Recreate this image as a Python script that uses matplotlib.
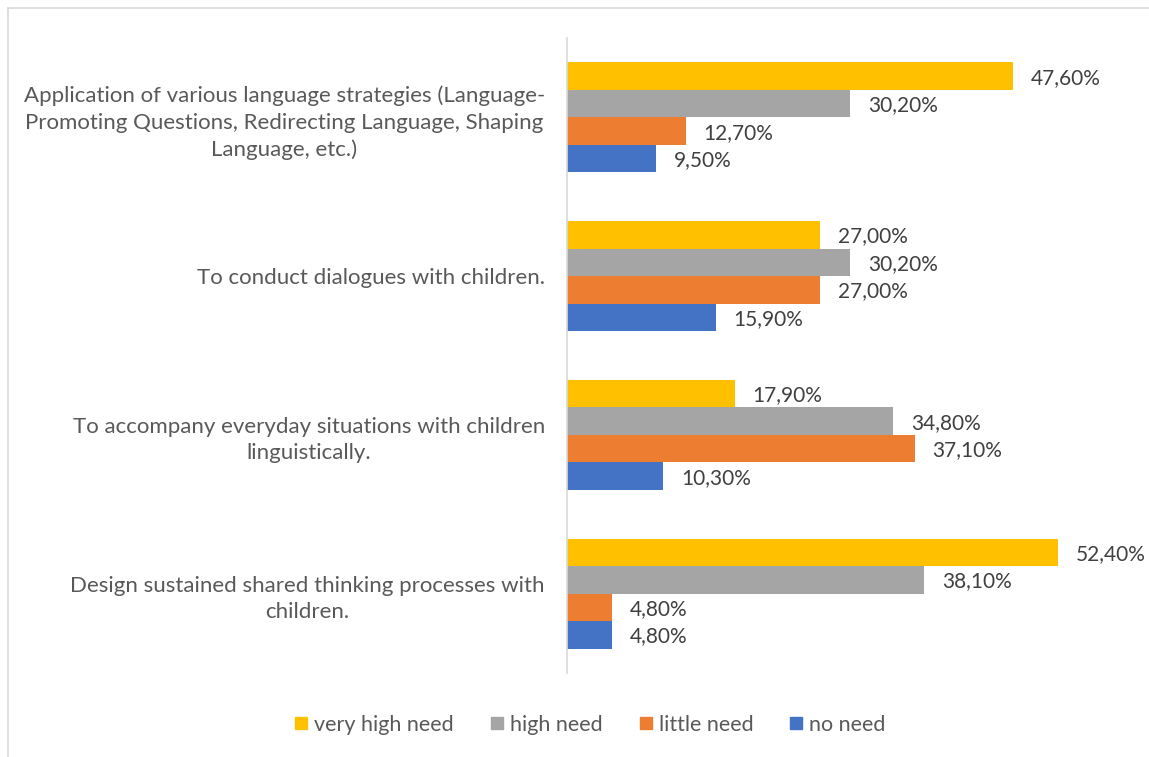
import numpy as np
import matplotlib.pyplot as plt
from matplotlib.lines import Line2D

plt.rcParams['font.family'] = ['Lato', 'DejaVu Sans']

categories = [
    "Application of various language strategies (Language-\nPromoting Questions, Redirecting Language, Shaping\nLanguage, etc.)",
    "To conduct dialogues with children.",
    "To accompany everyday situations with children\nlinguistically.",
    "Design sustained shared thinking processes with\nchildren.",
]
series_names = ["very high need", "high need", "little need", "no need"]
very_high = [47.6, 27.0, 17.9, 52.4]
high = [30.2, 30.2, 34.8, 38.1]
little = [12.7, 27.0, 37.1, 4.8]
no_need = [9.5, 15.9, 10.3, 4.8]
colors = ["#FFC000", "#A5A5A5", "#ED7D31", "#4472C4"]

series = [very_high, high, little, no_need]

fig = plt.figure(figsize=(11.49, 7.57), dpi=100)
ax = fig.add_axes([567 / 1149, 1 - 673 / 757, (1129 - 567) / 1149, (673 - 38) / 757])

bar_h = 0.173
group = np.arange(len(categories))
for i, (name, vals, c) in enumerate(zip(series_names, series, colors)):
    y = group + (i - 1.5) * bar_h
    bars = ax.barh(y, vals, height=bar_h, color=c, label=name)
    for b, v in zip(bars, vals):
        ax.text(v + 1.9, b.get_y() + b.get_height() / 2 + 0.01, f"{v:.2f}%".replace(".", ","),
                va="center", ha="left", fontsize=15, color="#404040")

ax.set_xlim(0, 60)
ax.set_ylim(3.5, -0.5)
ax.set_xticks([])
ax.set_yticks(group)
ax.set_yticklabels(categories, fontsize=16, color="#595959", ha="right",
                   multialignment="center", linespacing=1.4)
ax.tick_params(axis="y", length=0, pad=16)
for s in ["top", "right", "bottom"]:
    ax.spines[s].set_visible(False)
ax.spines["left"].set_color("#D9D9D9")
ax.spines["left"].set_linewidth(1.2)

handles = [Line2D([], [], marker="s", linestyle="none", markersize=9,
                  markerfacecolor=c, markeredgecolor=c) for c in colors]
fig.legend(handles, series_names, loc="center", bbox_to_anchor=(587 / 1149, 1 - 725 / 757),
           ncol=4, frameon=False, fontsize=15.5, handletextpad=0.0, columnspacing=1.4,
           handlelength=1.2, labelcolor="#595959")

# thin frame lines along the top and left edges
fig.add_artist(Line2D([8 / 1149, 8 / 1149], [0, 1 - 8 / 757], transform=fig.transFigure,
                      color="#D9D9D9", lw=1.2))
fig.add_artist(Line2D([8 / 1149, 1], [1 - 8 / 757, 1 - 8 / 757], transform=fig.transFigure,
                      color="#D9D9D9", lw=1.2))

fig.savefig("out.png", dpi=100)
